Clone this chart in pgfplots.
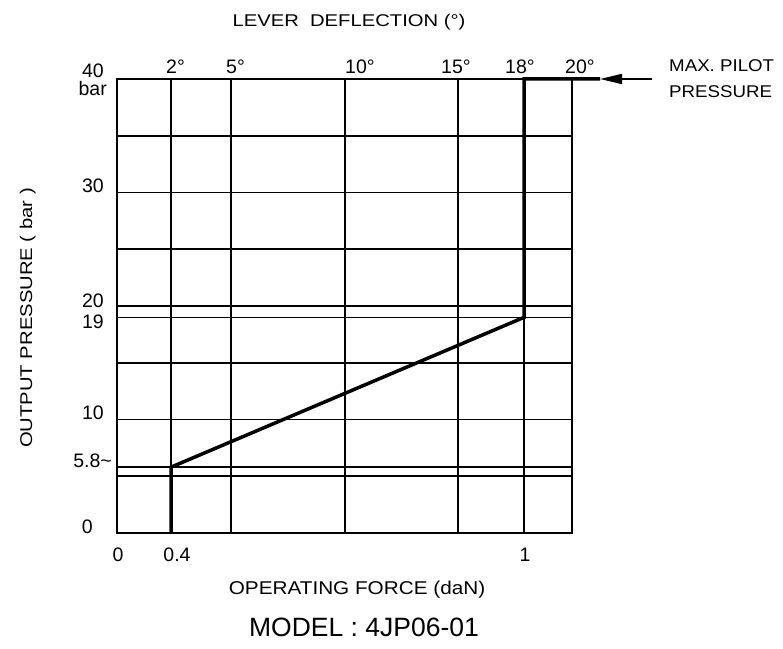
\documentclass[border=0pt]{standalone}
\usepackage{pgfplots}
\pgfplotsset{compat=1.18}
\usepackage{fontspec}
\setmainfont{Liberation Sans}
\usetikzlibrary{arrows.meta}
\newcommand\num{\fontsize{19.5}{22}\selectfont}
\newcommand\lab[2][1.19]{\scalebox{#1}[1]{\fontsize{17}{19}\selectfont #2}}
\begin{document}
\begin{tikzpicture}[x=1pt,y=1pt]
\path[use as bounding box] (0,0) rectangle (783,648);
\begin{axis}[
  at={(117pt,115pt)}, anchor=south west,
  scale only axis, width=455pt, height=454pt,
  xmin=0, xmax=455, ymin=0, ymax=40,
  xtick={54,114,228,341,407},
  ytick={5,5.8,10,15,19,20,25,30,35},
  xticklabels={}, yticklabels={},
  major tick length=0pt,
  grid=major,
  major grid style={black, line width=1.7pt},
  axis line style={black, line width=1.7pt},
  clip=false,
]
\addplot[black, line width=3.5pt, line join=miter] coordinates {(54,0) (54,5.8) (407,19) (407,40) (483,40)};
\draw[black, line width=1.7pt, -{Triangle[length=22pt,width=10pt]}] (axis cs:535,40) -- (axis cs:483,40);
% top degree labels
\node[anchor=base west, inner sep=0pt, yshift=5pt] at (axis cs:49,40) {\num 2°};
\node[anchor=base west, inner sep=0pt, yshift=5pt] at (axis cs:109,40) {\num 5°};
\node[anchor=base west, inner sep=0pt, yshift=5pt] at (axis cs:228,40) {\num 10°};
\node[anchor=base west, inner sep=0pt, yshift=5pt] at (axis cs:324,40) {\num 15°};
\node[anchor=base west, inner sep=0pt, yshift=5pt] at (axis cs:388,40) {\num 18°};
\node[anchor=base west, inner sep=0pt, yshift=5pt] at (axis cs:448,40) {\num 20°};
% y labels
\node[anchor=base east, inner sep=0pt, yshift=1pt] at (axis cs:-13,40) {\num 40};
\node[anchor=base east, inner sep=0pt, yshift=-17pt] at (axis cs:-10,40) {\num bar};
\node[anchor=base east, inner sep=0pt] at (axis cs:-13,30) {\num 30};
\node[anchor=base east, inner sep=0pt, yshift=-1pt] at (axis cs:-13,20) {\num 20};
\node[anchor=base east, inner sep=0pt, yshift=-11pt] at (axis cs:-13,19) {\num 19};
\node[anchor=base east, inner sep=0pt] at (axis cs:-13,10) {\num 10};
\node[anchor=base east, inner sep=0pt] at (axis cs:-5,5.8) {\num 5.8\char`\~};
\node[anchor=base east, inner sep=0pt] at (axis cs:-24,0) {\num 0};
% x labels
\node[anchor=base, inner sep=0pt, yshift=-28pt] at (axis cs:1,0) {\num 0};
\node[anchor=base, inner sep=0pt, yshift=-28pt] at (axis cs:60,0) {\num 0.4};
\node[anchor=base, inner sep=0pt, yshift=-28pt] at (axis cs:408,0) {\num 1};
\end{axis}
\node[anchor=base, inner sep=0pt] at (349,621) {\lab{LEVER\ \ DEFLECTION (°)}};
\node[anchor=base, inner sep=0pt] at (357,54) {\lab[1.12]{\fontsize{18.5}{20}\selectfont OPERATING FORCE (daN)}};
\node[anchor=base, inner sep=0pt] at (364,12) {\fontsize{26.5}{29}\selectfont MODEL : 4JP06-01};
\node[anchor=base, inner sep=0pt, rotate=90] at (32,330) {\lab{OUTPUT PRESSURE ( bar )}};
\node[anchor=base west, inner sep=0pt] at (669,576) {\lab[1.1]{MAX. PILOT}};
\node[anchor=base west, inner sep=0pt] at (669,550) {\lab[1.1]{PRESSURE}};
\end{tikzpicture}
\end{document}
